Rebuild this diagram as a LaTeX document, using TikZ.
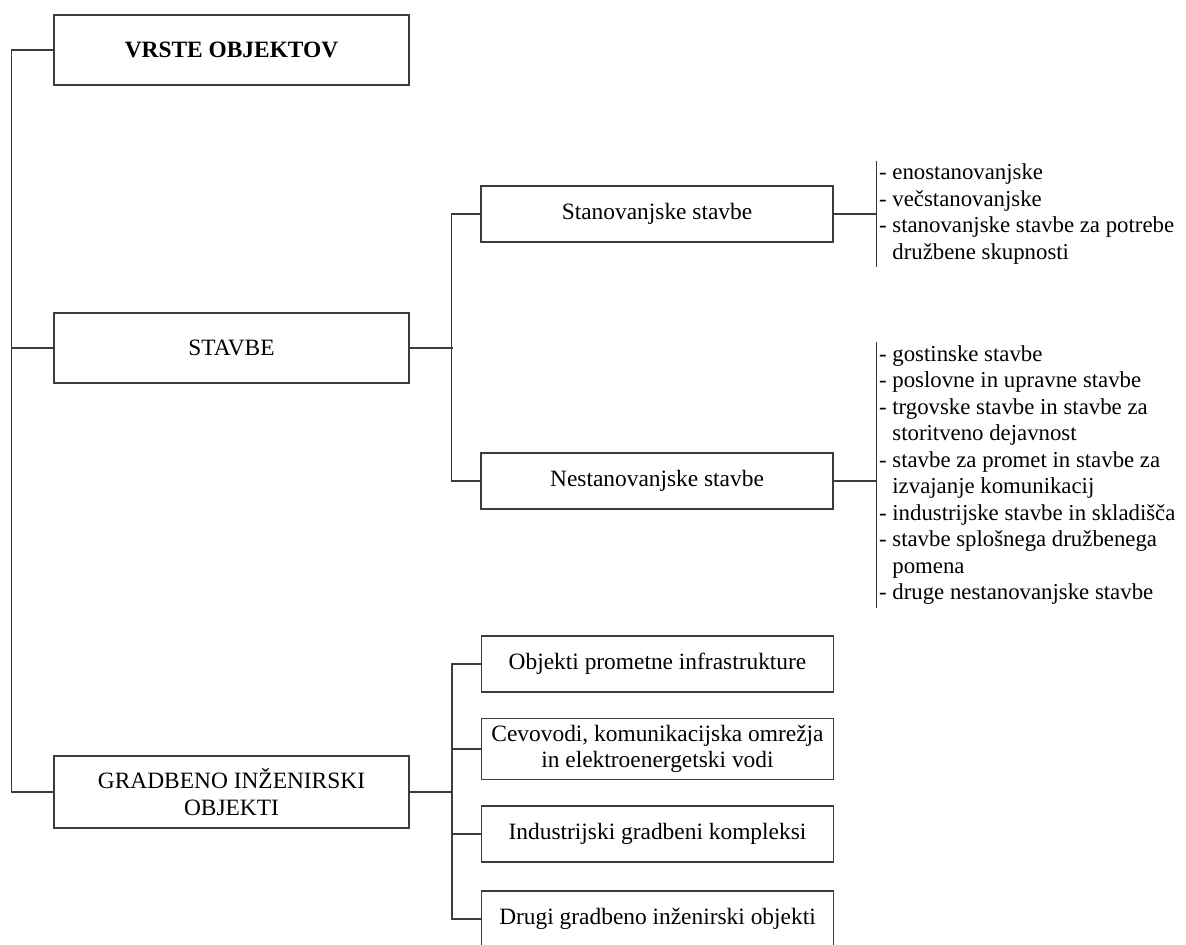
\documentclass[tikz,border=0pt]{standalone}
\usepackage{fontspec}
\setmainfont{Liberation Serif}
\usetikzlibrary{positioning}
\definecolor{lineclr}{RGB}{60,60,60}
\tikzset{
  catbox/.style={draw=lineclr,line width=0.7pt,minimum width=177.5pt,minimum height=35pt,
    align=center,font=\fontsize{11.7}{13.2}\selectfont},
  subbox/.style={draw=lineclr,line width=0.7pt,minimum width=176pt,minimum height=28pt,
    align=center,font=\fontsize{11.7}{13.2}\selectfont},
  itemlist/.style={align=left,inner xsep=1pt,inner ysep=1.5pt,font=\fontsize{11.4}{13.25}\selectfont},
  link/.style={draw=lineclr,line width=0.7pt}
}
\begin{document}
\begin{tikzpicture}[x=0.5pt,y=-0.5pt]
  \useasboundingbox (0,0) rectangle (1186,945);
  \node[catbox,font=\fontsize{11.7}{13.2}\selectfont\bfseries] (root) at (231.5,50) {VRSTE OBJEKTOV};
  \node[catbox] (stavbe) at (231.5,348) {STAVBE};
  \node[catbox,minimum height=36pt] (gio) at (231.5,792) {GRADBENO INŽENIRSKI\\OBJEKTI};

  \node[subbox] (stan) at (657,214) {Stanovanjske stavbe};
  \node[subbox] (nestan) at (657,481) {Nestanovanjske stavbe};

  \node[subbox] (promet) at (657.5,664) {Objekti prometne infrastrukture};
  \node[subbox] (cevovodi) at (657.5,749) {Cevovodi, komunikacijska omrežja\\in elektroenergetski vodi};
  \node[subbox] (industr) at (657.5,834) {Industrijski gradbeni kompleksi};
  \node[subbox] (drugi) at (657.5,919) {Drugi gradbeno inženirski objekti};

  \node[itemlist,right=21.5pt of stan] (stanlist) {- enostanovanjske\\- večstanovanjske\\- stanovanjske stavbe za potrebe\\\phantom{- }družbene skupnosti};
  \node[itemlist,right=21.5pt of nestan,yshift=3pt] (nestanlist) {- gostinske stavbe\\- poslovne in upravne stavbe\\- trgovske stavbe in stavbe za\\\phantom{- }storitveno dejavnost\\- stavbe za promet in stavbe za\\\phantom{- }izvajanje komunikacij\\- industrijske stavbe in skladišča\\- stavbe splošnega družbenega\\\phantom{- }pomena\\- druge nestanovanjske stavbe};

  % glavna veja
  \draw[link] (root.west) -- ++(-42,0) |- (gio.west);
  \draw[link] (stavbe.west) -- ++(-42,0);

  % stavbe
  \draw[link] (stavbe.east) -- ++(43,0);
  \draw[link] (stan.west) -- ++(-29,0) |- (nestan.west);

  % gradbeno inzenirski objekti
  \draw[link] (gio.east) -- ++(43,0);
  \draw[link] (promet.west) -- ++(-29,0) |- (drugi.west);
  \draw[link] (cevovodi.west) -- ++(-29,0);
  \draw[link] (industr.west) -- ++(-29,0);

  % seznami
  \draw[link] (stan.east) -- (stan.east -| stanlist.west);
  \draw[link] (stanlist.north west) -- (stanlist.south west);
  \draw[link] (nestan.east) -- (nestan.east -| nestanlist.west);
  \draw[link] (nestanlist.north west) -- (nestanlist.south west);
\end{tikzpicture}
\end{document}
